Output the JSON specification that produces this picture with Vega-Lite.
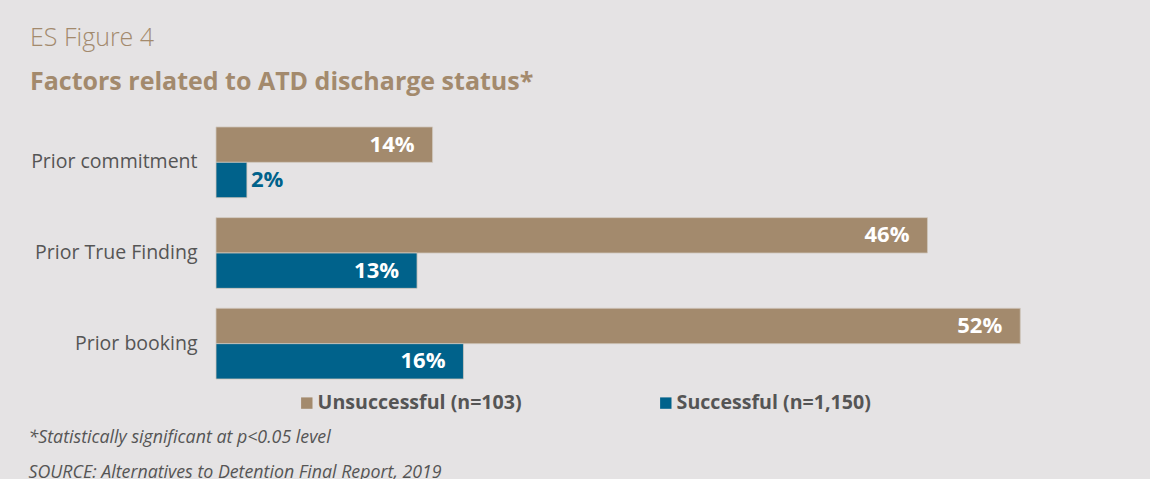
{
  "$schema": "https://vega.github.io/schema/vega-lite/v6.json",
  "autosize": "none",
  "width": 928,
  "height": 272,
  "padding": {"left": 216, "top": 117, "right": 6, "bottom": 90},
  "background": "#e5e3e4",
  "title": {
    "text": "ES Figure 4",
    "subtitle": "Factors related to ATD discharge status*",
    "anchor": "start",
    "frame": "bounds",
    "dx": 2,
    "font": "Open Sans",
    "fontSize": 25,
    "fontWeight": 300,
    "color": "#a38a6d",
    "subtitleFont": "Open Sans",
    "subtitleFontSize": 25,
    "subtitleFontWeight": "bold",
    "subtitleColor": "#a38a6d",
    "subtitlePadding": 19,
    "offset": 22
  },
  "data": {
    "values": [
      {"factor": "Prior commitment", "group": "Unsuccessful (n=103)", "value": 0.14},
      {"factor": "Prior commitment", "group": "Successful (n=1,150)", "value": 0.02},
      {"factor": "Prior True Finding", "group": "Unsuccessful (n=103)", "value": 0.46},
      {"factor": "Prior True Finding", "group": "Successful (n=1,150)", "value": 0.13},
      {"factor": "Prior booking", "group": "Unsuccessful (n=103)", "value": 0.52},
      {"factor": "Prior booking", "group": "Successful (n=1,150)", "value": 0.16}
    ]
  },
  "encoding": {
    "y": {
      "field": "factor",
      "type": "nominal",
      "sort": ["Prior commitment", "Prior True Finding", "Prior booking"],
      "scale": {"paddingInner": 0.22, "paddingOuter": 0.11},
      "axis": {
        "title": null,
        "domain": false,
        "ticks": false,
        "labelPadding": 19,
        "labelFont": "Open Sans",
        "labelFontSize": 19.5,
        "labelColor": "#555555",
        "labelLimit": 300
      }
    },
    "yOffset": {
      "field": "group",
      "type": "nominal",
      "sort": ["Unsuccessful (n=103)", "Successful (n=1,150)"],
      "scale": {"paddingInner": 0, "paddingOuter": 0}
    },
    "x": {
      "field": "value",
      "type": "quantitative",
      "scale": {"domain": [0, 0.6], "nice": false},
      "axis": {
        "domain": false,
        "ticks": false,
        "labels": false,
        "grid": false,
        "title": ["*Statistically significant at p<0.05 level", "SOURCE: Alternatives to Detention Final Report, 2019"],
        "titleFont": "Open Sans",
        "titleFontSize": 17.8,
        "titleFontStyle": "italic",
        "titleFontWeight": "normal",
        "titleColor": "#555555",
        "titleAnchor": "start",
        "titleAlign": "left",
        "titleX": -188,
        "titlePadding": 39,
        "titleLineHeight": 35
      }
    }
  },
  "layer": [
    {
      "mark": {"type": "bar", "stroke": "#cfc6bc", "strokeWidth": 0.8},
      "encoding": {
        "color": {
          "field": "group",
          "type": "nominal",
          "scale": {
            "domain": ["Unsuccessful (n=103)", "Successful (n=1,150)"],
            "range": ["#a38a6d", "#00628b"]
          },
          "legend": {
            "title": null,
            "orient": "none",
            "direction": "horizontal",
            "legendX": 81,
            "legendY": 276,
            "symbolType": "square",
            "symbolSize": 130,
            "symbolStrokeWidth": 0,
            "labelFont": "Open Sans",
            "labelFontSize": 19.6,
            "labelFontWeight": "bold",
            "labelColor": "#555555",
            "labelOffset": 1,
            "labelLimit": 400,
            "columnPadding": 134
          }
        }
      }
    },
    {
      "transform": [{"filter": "datum.value >= 0.05"}],
      "mark": {
        "type": "text",
        "align": "right",
        "baseline": "middle",
        "dx": -18,
        "font": "Open Sans",
        "fontSize": 22,
        "fontWeight": "bold",
        "color": "white"
      },
      "encoding": {
        "text": {"field": "value", "type": "quantitative", "format": ".0%"}
      }
    },
    {
      "transform": [{"filter": "datum.value < 0.05"}],
      "mark": {
        "type": "text",
        "align": "left",
        "baseline": "middle",
        "dx": 4,
        "font": "Open Sans",
        "fontSize": 22,
        "fontWeight": "bold",
        "color": "#00628b"
      },
      "encoding": {
        "text": {"field": "value", "type": "quantitative", "format": ".0%"}
      }
    }
  ],
  "config": {"view": {"stroke": null}}
}
